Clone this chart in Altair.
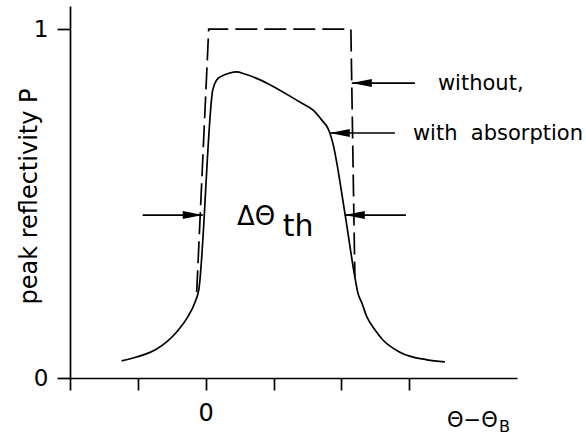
import altair as alt
import pandas as pd

FONT = "DejaVu Sans"

# Reflectivity curve with absorption (angle offset, peak reflectivity)
with_abs_x = [-1.239, -1.018, -0.723, -0.428, -0.265, -0.162, -0.103, 0.103, 0.162,
              0.236, 0.354, 0.457, 0.575, 1.386, 1.578, 1.711, 1.799, 1.829, 1.873,
              2.050, 2.198, 2.242, 2.301, 2.375, 2.493, 2.611, 2.861, 3.260, 3.525]
with_abs_p = [0.049, 0.060, 0.083, 0.132, 0.175, 0.215, 0.252, 0.825, 0.854,
              0.865, 0.874, 0.877, 0.871, 0.791, 0.768, 0.739, 0.716, 0.702, 0.673,
              0.473, 0.289, 0.244, 0.215, 0.175, 0.138, 0.109, 0.074, 0.052, 0.046]

# Curve without absorption (total reflection plateau)
no_abs_x = [-0.133, 0.044, 2.139, 2.198]
no_abs_p = [0.246, 1.0, 1.0, 0.289]

# Arrows: tip position, tail position, height, pointing direction
arrow_tip = [2.153, 1.829, 2.050, -0.044]
arrow_tail = [3.083, 2.788, 2.950, -0.929]
arrow_y = [0.845, 0.702, 0.467, 0.467]
arrow_dir = ["left", "left", "left", "right"]

x_ticks = [-2, -1, 0, 1, 2, 3]
y_ticks = [0, 1]

X_DOMAIN = [-2, 4.587]
Y_DOMAIN = [0, 1.066]

xs = alt.Scale(domain=X_DOMAIN, nice=False, zero=False)
ys = alt.Scale(domain=Y_DOMAIN, nice=False, zero=False)

curve_df = pd.DataFrame({"x": with_abs_x, "p": with_abs_p})
plateau_df = pd.DataFrame({"x": no_abs_x, "p": no_abs_p})
arrow_df = pd.DataFrame({"tip": arrow_tip, "tail": arrow_tail, "y": arrow_y, "dir": arrow_dir})

LINE_W = 1.7

x_axis = alt.Axis(
    values=x_ticks, title=None, grid=False, domain=True, domainColor="black",
    domainWidth=LINE_W, ticks=True, tickSize=12, tickWidth=LINE_W, tickColor="black",
    labelExpr="datum.value === 0 ? '0' : ''", labelFont=FONT, labelFontSize=24,
    labelColor="black", labelPadding=11,
)
y_axis = alt.Axis(
    values=y_ticks, format="d", title="peak reflectivity P", grid=False, domain=True,
    domainColor="black", domainWidth=LINE_W, ticks=True, tickSize=13, tickWidth=LINE_W,
    tickColor="black", labelFont=FONT, labelFontSize=23, labelColor="black",
    labelPadding=9, titleFont=FONT, titleFontSize=24, titleFontWeight="normal",
    titleColor="black", titleAngle=270, titleAlign="center",
    titleBaseline="alphabetic", titleX=-34, titleY=190,
)

plateau = alt.Chart(plateau_df).mark_line(
    color="black", strokeWidth=LINE_W, strokeDash=[22, 7]
).encode(
    x=alt.X("x:Q", scale=xs, axis=x_axis),
    y=alt.Y("p:Q", scale=ys, axis=y_axis),
    order="x:Q",
)

curve = alt.Chart(curve_df).mark_line(
    color="black", strokeWidth=LINE_W, interpolate="monotone"
).encode(
    x=alt.X("x:Q", scale=xs),
    y=alt.Y("p:Q", scale=ys),
    order="x:Q",
)

shafts = alt.Chart(arrow_df).mark_rule(color="black", strokeWidth=LINE_W).encode(
    x=alt.X("tip:Q", scale=xs),
    x2="tail:Q",
    y=alt.Y("y:Q", scale=ys),
)

LEFT_HEAD = "M0,0 L2,-0.4 L2,0.4 Z"
RIGHT_HEAD = "M0,0 L-2,-0.4 L-2,0.4 Z"

heads_left = alt.Chart(arrow_df).transform_filter(
    alt.datum.dir == "left"
).mark_point(shape=LEFT_HEAD, size=400, filled=True, color="black", opacity=1,
             strokeWidth=0).encode(
    x=alt.X("tip:Q", scale=xs),
    y=alt.Y("y:Q", scale=ys),
)
heads_right = alt.Chart(arrow_df).transform_filter(
    alt.datum.dir == "right"
).mark_point(shape=RIGHT_HEAD, size=400, filled=True, color="black", opacity=1,
             strokeWidth=0).encode(
    x=alt.X("tip:Q", scale=xs),
    y=alt.Y("y:Q", scale=ys),
)


def label(text, x, y, size):
    df = pd.DataFrame({"x": [x], "y": [y], "t": [text]})
    return alt.Chart(df).mark_text(
        font=FONT, fontSize=size, align="left", baseline="alphabetic", color="black"
    ).encode(
        x=alt.X("x:Q", scale=xs),
        y=alt.Y("y:Q", scale=ys),
        text="t:N",
    )


texts = [
    label("without,", 3.422, 0.825, 21),
    label("with\u00a0\u00a0absorption", 3.053, 0.682, 21),
    label("\u0394\u0398", 0.461, 0.438, 26),
    label("th", 1.136, 0.407, 30),
    label("\u0398\u2212\u0398", 3.556, -0.140, 21),
    label("B", 4.322, -0.155, 16),
]

chart = alt.layer(plateau, curve, shafts, heads_left, heads_right, *texts).properties(
    width=447,
    height=372,
    autosize=alt.AutoSizeParams(type="none"),
    padding={"left": 70, "top": 6, "right": 69, "bottom": 59},
    background="white",
).configure_view(stroke=None)

chart.save("out.html", embed_options={"renderer": "svg", "actions": False})
